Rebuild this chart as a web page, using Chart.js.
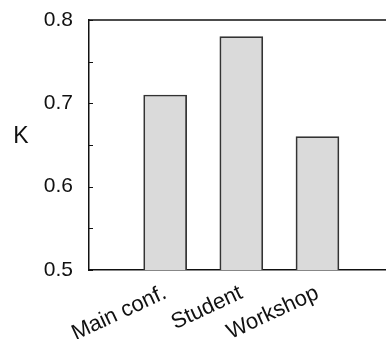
<!DOCTYPE html>
<html>
<head>
<meta charset="utf-8">
<script src="https://cdn.jsdelivr.net/npm/chart.js@4/dist/chart.umd.min.js"></script>
<style>
  html, body { margin: 0; padding: 0; background: #fff; }
  #wrap { width: 386px; height: 339px; }
</style>
</head>
<body>
<div id="wrap"><canvas id="kChart"></canvas></div>
<script>
// categories and K values
const categories = ["Main conf.", "Student", "Workshop"];
const positions = [1, 2, 3];
const kValues = [0.71, 0.78, 0.66];
const yMajorTicks = [0.5, 0.6, 0.7, 0.8];

const font = "'Liberation Sans', Arial, Helvetica, sans-serif";

// inward tick marks, top frame line and the horizontal "K" label
const framePlugin = {
  id: "frame",
  afterDraw(chart) {
    const ctx = chart.ctx;
    const area = chart.chartArea;
    const y = chart.scales.y;
    ctx.save();
    ctx.strokeStyle = "#111";
    ctx.lineWidth = 1.5;
    ctx.beginPath();
    ctx.moveTo(area.left, area.top);
    ctx.lineTo(area.right, area.top);
    ctx.stroke();
    ctx.lineWidth = 1;
    y.ticks.forEach(function (t) {
      const py = Math.round(y.getPixelForValue(t.value)) + 0.5;
      ctx.beginPath();
      ctx.moveTo(area.left, py);
      ctx.lineTo(area.left + 4, py);
      ctx.stroke();
    });
    ctx.fillStyle = "#111";
    ctx.font = "23px " + font;
    ctx.textAlign = "center";
    ctx.textBaseline = "middle";
    ctx.fillText("K", 21, 137);
    ctx.restore();
  },
};

const data = {
  datasets: [
    {
      label: "K",
      data: positions.map((p, i) => ({ x: p, y: kValues[i] })),
      backgroundColor: "#dadada",
      borderColor: "#333",
      borderWidth: 1.7,
      barThickness: 43,
    },
  ],
};

const config = {
  type: "bar",
  data: data,
  plugins: [framePlugin],
  options: {
    responsive: true,
    maintainAspectRatio: false,
    animation: false,
    layout: { padding: { top: 20, right: 0, left: 0, bottom: 0 } },
    plugins: { legend: { display: false }, tooltip: { enabled: false } },
    scales: {
      x: {
        type: "linear",
        offset: false,
        min: 0,
        max: 3.9,
        afterBuildTicks: function (scale) {
          scale.ticks = positions.map((v) => ({ value: v }));
        },
        afterFit: function (scale) {
          scale.height = 69;
        },
        grid: { display: false, drawTicks: false, offset: false },
        border: { display: true, color: "#111", width: 1.5 },
        ticks: {
          color: "#111",
          font: { family: font, size: 22 },
          maxRotation: 25,
          minRotation: 25,
          padding: 10,
          callback: function (v) {
            return categories[positions.indexOf(v)];
          },
        },
      },
      y: {
        min: 0.5,
        max: 0.8,
        afterBuildTicks: function (scale) {
          const t = [];
          for (let i = 0; i <= 6; i++) t.push({ value: 0.5 + i * 0.05 });
          scale.ticks = t;
        },
        afterFit: function (scale) {
          scale.width = 89;
          scale.paddingTop = 0;
          scale.paddingBottom = 0;
        },
        grid: { display: false, drawTicks: false },
        border: { display: true, color: "#111", width: 1.5 },
        ticks: {
          color: "#111",
          font: { family: font, size: 21 },
          padding: 16,
          callback: function (v) {
            const m = yMajorTicks.find((t) => Math.abs(t - v) < 1e-6);
            return m === undefined ? "" : m.toFixed(1);
          },
        },
      },
    },
  },
};

const kChart = new Chart(document.getElementById("kChart"), config);
</script>
</body>
</html>
